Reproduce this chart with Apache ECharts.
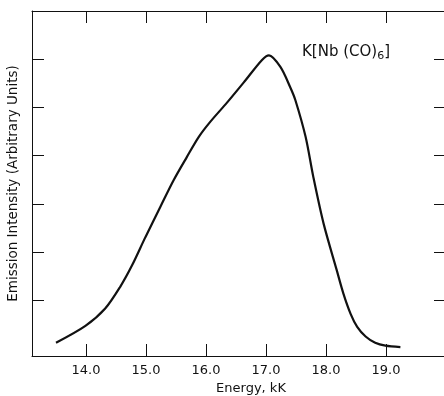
<!DOCTYPE html>
<html>
<head>
<meta charset="utf-8">
<script src="https://cdn.jsdelivr.net/npm/echarts@6/dist/echarts.min.js"></script>
<style>
  html, body { margin: 0; padding: 0; background: #fff; }
  #chart { width: 444px; height: 396px; }
</style>
</head>
<body>
<div id="chart"></div>
<script>
// Emission spectrum of K[Nb(CO)6]
const energy = [13.50, 13.99, 14.32, 14.57, 14.77, 14.99, 15.24, 15.46, 15.68, 15.88,
                16.07, 16.35, 16.63, 16.93, 17.05, 17.24, 17.40, 17.49, 17.66, 17.79,
                17.96, 18.18, 18.29, 18.41, 18.52, 18.66, 18.82, 18.99, 19.24];
const intensity = [0.12, 0.47, 0.83, 1.28, 1.73, 2.31, 2.94, 3.49, 3.97, 4.39,
                   4.70, 5.10, 5.52, 5.98, 6.08, 5.84, 5.43, 5.15, 4.39, 3.55,
                   2.59, 1.62, 1.14, 0.72, 0.45, 0.25, 0.12, 0.06, 0.03];
const xTicks = [14, 15, 16, 17, 18, 19];
const yTicks = [1, 2, 3, 4, 5, 6];

const ink = '#111';
const font = 'DejaVu Sans';

const chart = echarts.init(document.getElementById('chart'), null, { renderer: 'canvas' });

const xBase = {
  type: 'value', min: 13.1, max: 20.0,
  splitLine: { show: false },
  axisLine: { show: true, onZero: false, lineStyle: { color: ink, width: 1 } },
  axisTick: { show: true, inside: true, length: 12, customValues: xTicks, lineStyle: { color: ink, width: 1 } }
};
const yBase = {
  type: 'value', min: -0.155, max: 7.0,
  splitLine: { show: false },
  axisLine: { show: true, onZero: false, lineStyle: { color: ink, width: 1 } },
  axisTick: { show: true, inside: true, length: 12, customValues: yTicks, lineStyle: { color: ink, width: 1 } },
  axisLabel: { show: false }
};

chart.setOption({
  animation: false,
  backgroundColor: '#fff',
  grid: { left: 32, right: -2, top: 11, bottom: 40, outerBoundsMode: 'none', containLabel: false },
  xAxis: [
    Object.assign({}, xBase, {
      position: 'bottom',
      name: 'Energy, kK',
      nameLocation: 'middle',
      nameGap: 26,
      nameTextStyle: { color: ink, fontFamily: font, fontSize: 13, padding: [0, 0, 0, 24] },
      axisLabel: {
        show: true, customValues: xTicks, margin: 8,
        color: ink, fontFamily: font, fontSize: 13,
        formatter: v => v.toFixed(1)
      }
    }),
    Object.assign({}, xBase, { position: 'top', axisLabel: { show: false } })
  ],
  yAxis: [
    Object.assign({}, yBase, {
      position: 'left',
      name: 'Emission Intensity (Arbitrary Units)',
      nameLocation: 'middle',
      nameGap: 12,
      nameTextStyle: { color: ink, fontFamily: font, fontSize: 13.5 }
    }),
    Object.assign({}, yBase, { position: 'right' })
  ],
  graphic: [{
    type: 'text',
    left: 302, top: 45,
    style: {
      text: '{m|K[Nb (CO)}{s|6}{m|]}',
      rich: {
        m: { fontFamily: font, fontSize: 15, fill: ink },
        s: { fontFamily: font, fontSize: 11, fill: ink, verticalAlign: 'bottom', padding: [7, 0, 0, 0] }
      }
    }
  }],
  series: [{
    type: 'line',
    xAxisIndex: 0, yAxisIndex: 0,
    data: energy.map((e, i) => [e, intensity[i]]),
    smooth: 0.3,
    showSymbol: false,
    lineStyle: { color: ink, width: 2.2 }
  }]
});
</script>
</body>
</html>
